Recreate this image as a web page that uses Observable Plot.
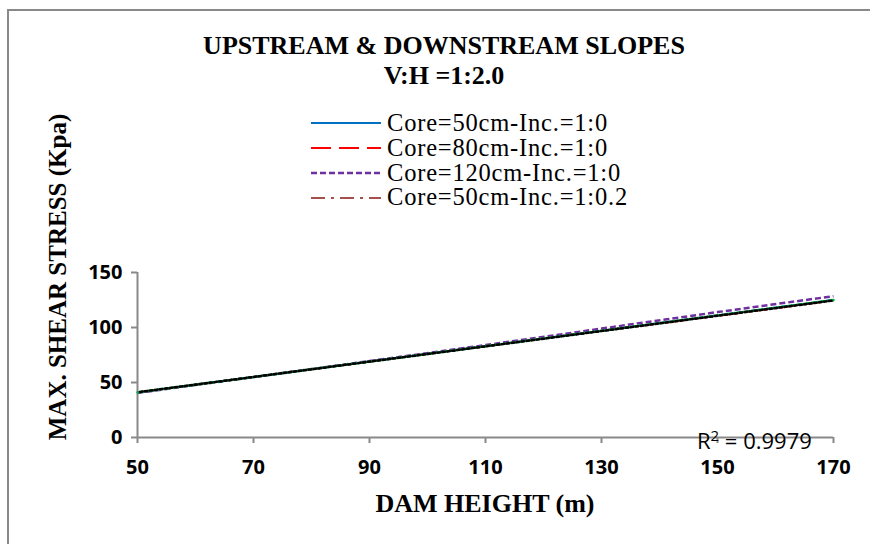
<!DOCTYPE html>
<html>
<head>
<meta charset="utf-8">
<script src="https://cdn.jsdelivr.net/npm/d3@7"></script>
<script src="https://cdn.jsdelivr.net/npm/@observablehq/plot@0.6"></script>
<style>
  html, body { margin: 0; padding: 0; background: #fff; }
  #wrap { position: relative; width: 870px; height: 544px; overflow: hidden; background: #fff; }
  #frame { position: absolute; left: 7px; top: 9px; width: 870px; height: 544px; border-left: 2px solid #898989; border-top: 2px solid #898989; }
  #chart { position: absolute; left: 0; top: 0; }
  .serif { font-family: "Liberation Serif", "Times New Roman", serif; color: #000; }
  #title { position: absolute; left: 0; width: 888px; top: 31px; text-align: center; font-weight: bold; font-size: 26px; line-height: 30px; }
  #ylabel { position: absolute; left: -142px; top: 262px; width: 400px; text-align: center; font-weight: bold; font-size: 25px; line-height: 30px; transform: rotate(-90deg); transform-origin: 200px 15px; white-space: nowrap; }
  #xlabel { position: absolute; left: 285px; width: 400px; top: 489px; text-align: center; font-weight: bold; font-size: 26px; line-height: 30px; }
  #legend { position: absolute; left: 311px; top: 111px; }
  .row { display: flex; align-items: center; height: 24.8px; }
  .row span { margin-left: 6px; font-size: 24.5px; letter-spacing: 0.8px; line-height: 24.8px; white-space: nowrap; }
  #r2 { position: absolute; left: 697px; top: 431px; font-family: "Open Sans", sans-serif; font-size: 22px; line-height: 19px; color: #000; white-space: nowrap; }
  #r2 sup { font-size: 15px; vertical-align: 8px; line-height: 0; }
</style>
</head>
<body>
<div id="wrap">
  <div id="frame"></div>
  <div id="chart"></div>
  <div id="title" class="serif"></div>
  <div id="legend" class="serif"></div>
  <div id="ylabel" class="serif"></div>
  <div id="xlabel" class="serif"></div>
  <div id="r2"></div>
</div>
<script>
// ---- data ----
const titleLines = ["UPSTREAM & DOWNSTREAM SLOPES", "V:H =1:2.0"];
const xLabel = "DAM HEIGHT (m)";
const yLabel = "MAX. SHEAR STRESS (Kpa)";
const r2Text = ["R", "2", " = 0.9979"];

const heights = [50, 70, 90, 110, 130, 150, 170];
const core50 = [41, 55, 69, 83, 97, 111, 125];
const core80 = [41, 55, 69, 83, 97, 110.5, 124.5];
const core120 = [40.5, 55, 69.5, 84, 99, 114, 128.5];
const core50inc = [41, 55, 69, 83, 97, 111, 124.5];

const seriesNames = ["Core=50cm-Inc.=1:0", "Core=80cm-Inc.=1:0", "Core=120cm-Inc.=1:0", "Core=50cm-Inc.=1:0.2"];
const seriesValues = [core50, core80, core120, core50inc];
const seriesColors = ["#0070C0", "#FF0000", "#7030A0", "#A5504C"];
const seriesDash = [null, "20,8", "6,3", "14,6,3,6"];
const seriesWidth = [2, 2, 2.5, 2];

const xTicks = [50, 70, 90, 110, 130, 150, 170];
const yTicks = [0, 50, 100, 150];
const xDomain = [50, 170];
const yDomain = [0, 150];

// trend lines (linear fits) drawn over two of the series
const trendSeries = [core50, core80];
const trendColors = ["#00B050", "#000000"];

// ---- build ----
const rows = [];
seriesNames.forEach((name, i) => {
  heights.forEach((h, j) => rows.push({series: name, idx: i, x: h, y: seriesValues[i][j]}));
});

const axisColor = "#898989";
const tickFont = {fontFamily: "'Open Sans', sans-serif", fontWeight: "bold", fontSize: 20, fill: "#000"};

const marks = [];
seriesNames.forEach((name, i) => {
  marks.push(Plot.line(rows.filter(d => d.idx === i), {
    x: "x", y: "y", stroke: seriesColors[i], strokeWidth: seriesWidth[i],
    strokeDasharray: seriesDash[i] || undefined, strokeLinecap: "butt"
  }));
});
trendSeries.forEach((vals, k) => {
  const data = heights.map((h, j) => ({x: h, y: vals[j]}));
  marks.push(Plot.linearRegressionY(data, {
    x: "x", y: "y", ci: 0, stroke: trendColors[k], strokeWidth: 2.5,
    strokeDasharray: "2.5,2.5", strokeDashoffset: k * 2.5, strokeOpacity: 1
  }));
});

const chart = Plot.plot({
  width: 870,
  height: 544,
  marginLeft: 137,
  marginRight: 37,
  marginTop: 272,
  marginBottom: 107,
  style: {background: "transparent", overflow: "visible"},
  x: {domain: xDomain, ticks: xTicks},
  y: {domain: yDomain, ticks: yTicks},
  marks: [
    Plot.axisX(xTicks, {tickSize: 6, tickPadding: 16, stroke: axisColor, strokeWidth: 2, label: null, ...tickFont}),
    Plot.axisY(yTicks, {tickSize: 6, tickPadding: 9, stroke: axisColor, strokeWidth: 2, label: null, ...tickFont}),
    Plot.ruleY([yDomain[0]], {stroke: axisColor, strokeWidth: 2}),
    Plot.ruleX([xDomain[0]], {stroke: axisColor, strokeWidth: 2}),
    ...marks
  ]
});
document.getElementById("chart").appendChild(chart);

// title
document.getElementById("title").innerHTML = titleLines.map(t => `<div>${t.replace(/&/g, "&amp;")}</div>`).join("");
document.getElementById("xlabel").textContent = xLabel;
document.getElementById("ylabel").textContent = yLabel;
document.getElementById("r2").innerHTML = `${r2Text[0]}<sup>${r2Text[1]}</sup>${r2Text[2]}`;

// legend
const legend = document.getElementById("legend");
seriesNames.forEach((name, i) => {
  const row = document.createElement("div");
  row.className = "row";
  const dash = seriesDash[i] ? `stroke-dasharray="${seriesDash[i]}"` : "";
  row.innerHTML = `<svg width="70" height="10"><line x1="0" y1="5" x2="70" y2="5" stroke="${seriesColors[i]}" stroke-width="${seriesWidth[i]}" ${dash}/></svg><span>${name}</span>`;
  legend.appendChild(row);
});
</script>
</body>
</html>
